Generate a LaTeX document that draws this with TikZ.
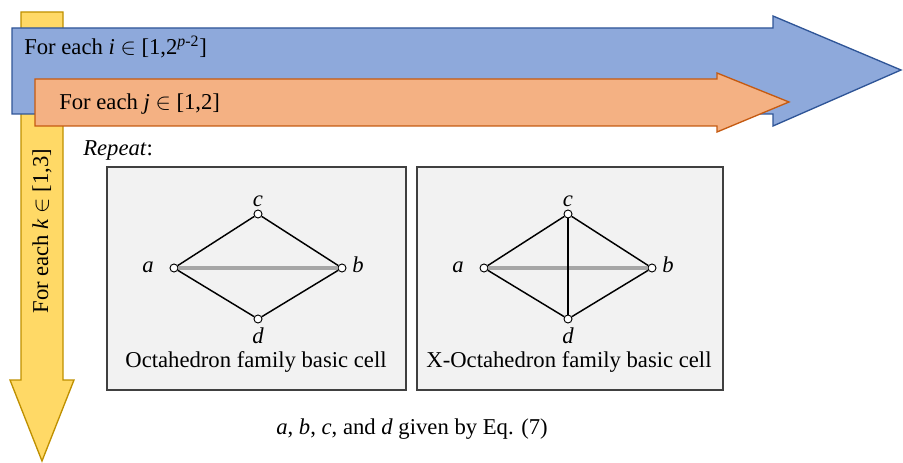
\documentclass[tikz,border=0pt]{standalone}
\usepackage{fontspec}
\setmainfont{Liberation Serif}
\definecolor{bluefill}{HTML}{8EA9DB}
\definecolor{blueline}{HTML}{2F5597}
\definecolor{orangefill}{HTML}{F4B183}
\definecolor{orangeline}{HTML}{C55A11}
\definecolor{yellowfill}{HTML}{FFD966}
\definecolor{yellowline}{HTML}{BF9000}
\definecolor{cellfill}{HTML}{F2F2F2}
\definecolor{cellline}{HTML}{404040}
\definecolor{axisgray}{HTML}{A6A6A6}
\pgfdeclarelayer{bg}
\pgfsetlayers{bg,main}
\tikzset{
  txt/.style={inner sep=0pt, font=\fontsize{17}{20}\selectfont},
  lbl/.style={inner sep=0pt, font=\fontsize{17}{20}\selectfont\itshape, anchor=base},
  vtx/.style={circle, draw=black, fill=white, line width=0.7pt, minimum size=6pt, inner sep=0pt},
  cellbox/.style={draw=cellline, fill=cellfill, line width=0.8pt},
  rim/.style={draw=black, line width=1.1pt},
  midline/.style={draw=axisgray, line width=2.4pt},
  bigarrow/.style={line width=1pt, line join=miter}
}
\begin{document}
\begin{tikzpicture}[x=0.75pt, y=-0.75pt]
\useasboundingbox (0,0) rectangle (903,463);

% loop arrows: k (vertical), i (outer), j (inner)
\path[bigarrow, fill=yellowfill, draw=yellowline]
  (21,12) -- (63,12) -- (63,380) -- (74,380) -- (42,461) -- (10,380) -- (21,380) -- cycle;
\path[bigarrow, fill=bluefill, draw=blueline]
  (12,28) -- (773,28) -- (773,16) -- (901,70) -- (773,126) -- (773,114) -- (12,114) -- cycle;
\path[bigarrow, fill=orangefill, draw=orangeline]
  (35,79) -- (717,79) -- (717,73) -- (789,102) -- (717,132) -- (717,126) -- (35,126) -- cycle;

\node[txt, anchor=base west] (loopi) at (24,55)
  {For each \textit{i} $\in$ [1,2\textsuperscript{\textit{p}-2}]};
\node[txt, anchor=base west] (loopj) at (59,110)
  {For each \textit{j} $\in$ [1,2]};
\node[txt, rotate=90] (loopk) at (42,231)
  {For each \textit{k} $\in$ [1,3]};
\node[txt, anchor=base west] (repeat) at (83,156) {\textit{Repeat}:};

% the two basic cells
\path[cellbox] (107,167) rectangle (406,390);
\path[cellbox] (417,167) rectangle (723,390);

% octahedron cell
\node[vtx] (a1) at (174,268) {};
\node[vtx] (b1) at (342,268) {};
\node[vtx] (c1) at (258,214) {};
\node[vtx] (d1) at (258,319) {};
\begin{pgfonlayer}{bg}
\fill[white] (a1.center) -- (c1.center) -- (b1.center) -- (d1.center) -- cycle;
\end{pgfonlayer}
\draw[midline] (a1) -- (b1);
\draw[rim] (a1) -- (c1) -- (b1) -- (d1) -- (a1);
\node[lbl] (la1) at (148,273) {a};
\node[lbl] (lb1) at (358,273) {b};
\node[lbl] (lc1) at (258,207) {c};
\node[lbl] (ld1) at (258,344) {d};
\node[txt, anchor=base] (cap1) at (256,367) {Octahedron family basic cell};

% X-octahedron cell
\node[vtx] (a2) at (484,268) {};
\node[vtx] (b2) at (652,268) {};
\node[vtx] (c2) at (568,214) {};
\node[vtx] (d2) at (568,319) {};
\begin{pgfonlayer}{bg}
\fill[white] (a2.center) -- (c2.center) -- (b2.center) -- (d2.center) -- cycle;
\end{pgfonlayer}
\draw[midline] (a2) -- (b2);
\draw[rim] (a2) -- (c2) -- (b2) -- (d2) -- (a2);
\draw[rim] (c2) -- (d2);
\node[lbl] (la2) at (458,273) {a};
\node[lbl] (lb2) at (668,273) {b};
\node[lbl] (lc2) at (568,207) {c};
\node[lbl] (ld2) at (568,344) {d};
\node[txt, anchor=base] (cap2) at (569,367) {X-Octahedron family basic cell};

\node[txt, anchor=base] (note) at (412,434)
  {\textit{a}, \textit{b}, \textit{c}, and \textit{d} given by Eq. (7)};
\end{tikzpicture}
\end{document}
